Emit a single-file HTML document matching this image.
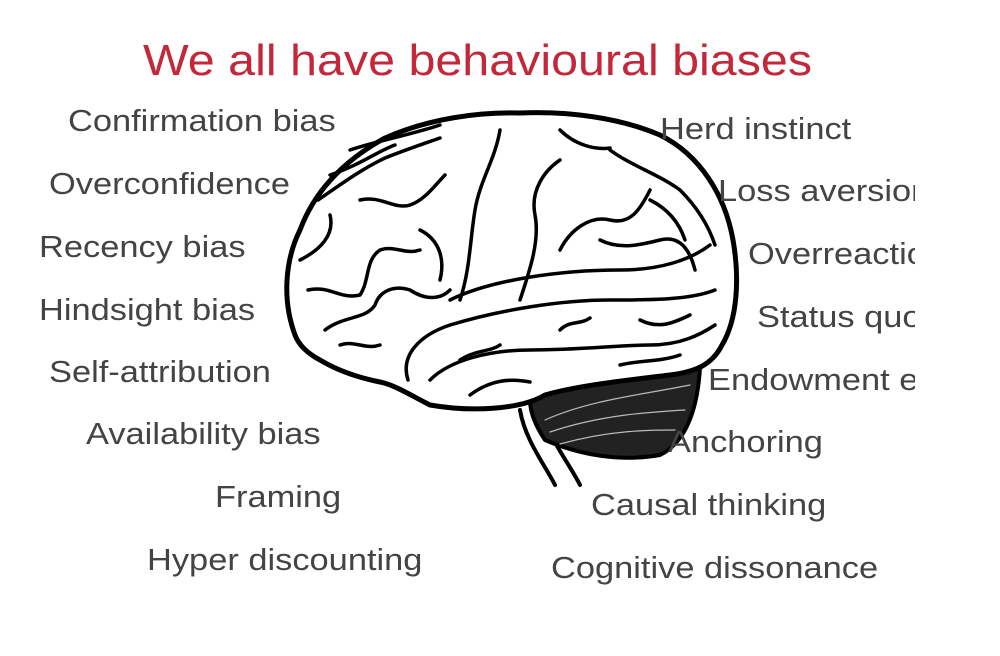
<!DOCTYPE html>
<html><head><meta charset="utf-8"><style>
body{margin:0;background:#fff;width:1000px;height:656px;position:relative;overflow:hidden;font-family:"Liberation Sans",Arial,sans-serif}
.t{position:absolute;left:143px;top:36px;font-size:44px;color:#c3273a;white-space:nowrap;transform:scaleX(1.1);transform-origin:left top}
.clip{position:absolute;left:0;top:0;width:915px;height:656px;overflow:hidden}
.l{position:absolute;font-size:31px;color:#444;white-space:nowrap;line-height:36px;transform:translateY(-18px) scaleX(1.11);transform-origin:left center}
svg{position:absolute;left:0;top:0}
</style></head><body>
<div class="t">We all have behavioural biases</div>
<svg width="1000" height="656" viewBox="0 0 1000 656" fill="none" stroke="#000" stroke-width="4" stroke-linecap="round" stroke-linejoin="round">
<path d="M520,410 C525,440 545,465 555,485 M540,408 C550,440 570,465 580,485" stroke-width="4"/>
<path d="M530,400 C560,380 640,370 700,368 C698,400 690,440 660,455 C620,462 580,455 545,440 C535,425 530,412 530,400Z" fill="#222"/>
<path d="M545,420 C590,400 640,395 690,385 M550,432 C600,415 650,412 685,410 M560,444 C610,430 650,430 675,430" stroke="#bbb" stroke-width="1.2"/>
<path d="M295,335 C282,300 285,260 300,230 C315,190 345,160 385,138 C430,118 480,112 520,113 C570,111 620,118 660,135 C700,155 725,195 733,240 C740,280 737,320 722,345 C712,365 695,372 670,375 C630,380 580,385 545,395 C520,410 470,412 430,405 C410,395 395,385 380,382 C360,378 340,372 320,360 C305,352 298,343 295,335Z" fill="#fff" stroke-width="5"/>
<g stroke-width="3.5">
<path d="M300,260 C320,250 335,235 330,215 M318,200 C340,185 360,170 385,158 C405,150 420,145 440,138"/>
<path d="M308,290 C330,285 340,300 360,295 C370,280 365,260 380,250 C395,245 405,255 420,250"/>
<path d="M325,330 C345,315 365,320 375,305 C380,290 395,285 410,290 C425,300 440,300 450,290"/>
<path d="M460,300 C470,270 470,240 475,210 C480,180 495,160 500,130"/>
<path d="M450,300 C490,280 560,270 620,270 C660,270 690,260 710,245"/>
<path d="M408,380 C400,355 420,335 450,325 C500,310 560,300 610,300 C650,300 690,300 715,290"/>
<path d="M430,380 C450,360 490,350 530,350 C580,350 620,345 650,345 C680,345 700,335 715,325"/>
<path d="M520,300 C530,270 540,240 535,215 C530,190 545,170 560,160"/>
<path d="M560,250 C570,230 590,215 610,220 C630,225 640,210 650,190"/>
<path d="M610,150 C630,165 660,175 680,190 C700,210 710,230 715,245"/>
<path d="M360,200 C380,195 395,210 410,205 C425,200 435,185 445,175"/>
<path d="M420,230 C440,240 445,260 440,280"/>
<path d="M600,240 C620,250 640,245 660,240 C680,235 690,250 695,270"/>
<path d="M470,395 C490,380 510,378 530,382"/>
<path d="M560,330 C570,320 580,325 590,318 M640,320 C660,330 675,322 690,315"/>
<path d="M350,150 C380,140 410,135 440,125 M330,175 C360,165 380,150 395,145"/>
<path d="M560,130 C575,145 595,150 610,148 M650,200 C670,210 680,225 685,240"/>
<path d="M340,345 C355,340 365,350 380,345 M460,360 C475,350 490,352 500,345"/>
<path d="M620,365 C640,360 660,362 680,355"/>
</g>
</svg>
<div class="clip">
<div class="l" style="left:68px;top:121px">Confirmation bias</div>
<div class="l" style="left:49px;top:184px">Overconfidence</div>
<div class="l" style="left:39px;top:247px">Recency bias</div>
<div class="l" style="left:39px;top:310px">Hindsight bias</div>
<div class="l" style="left:49px;top:372px">Self-attribution</div>
<div class="l" style="left:86px;top:434px">Availability bias</div>
<div class="l" style="left:215px;top:497px">Framing</div>
<div class="l" style="left:147px;top:560px">Hyper discounting</div>
<div class="l" style="left:660px;top:129px">Herd instinct</div>
<div class="l" style="left:718px;top:191px">Loss aversion</div>
<div class="l" style="left:748px;top:254px">Overreaction</div>
<div class="l" style="left:757px;top:317px">Status quo</div>
<div class="l" style="left:708px;top:380px">Endowment effect</div>
<div class="l" style="left:668px;top:442px">Anchoring</div>
<div class="l" style="left:591px;top:505px">Causal thinking</div>
<div class="l" style="left:551px;top:568px">Cognitive dissonance</div>
</div>
</body></html>
